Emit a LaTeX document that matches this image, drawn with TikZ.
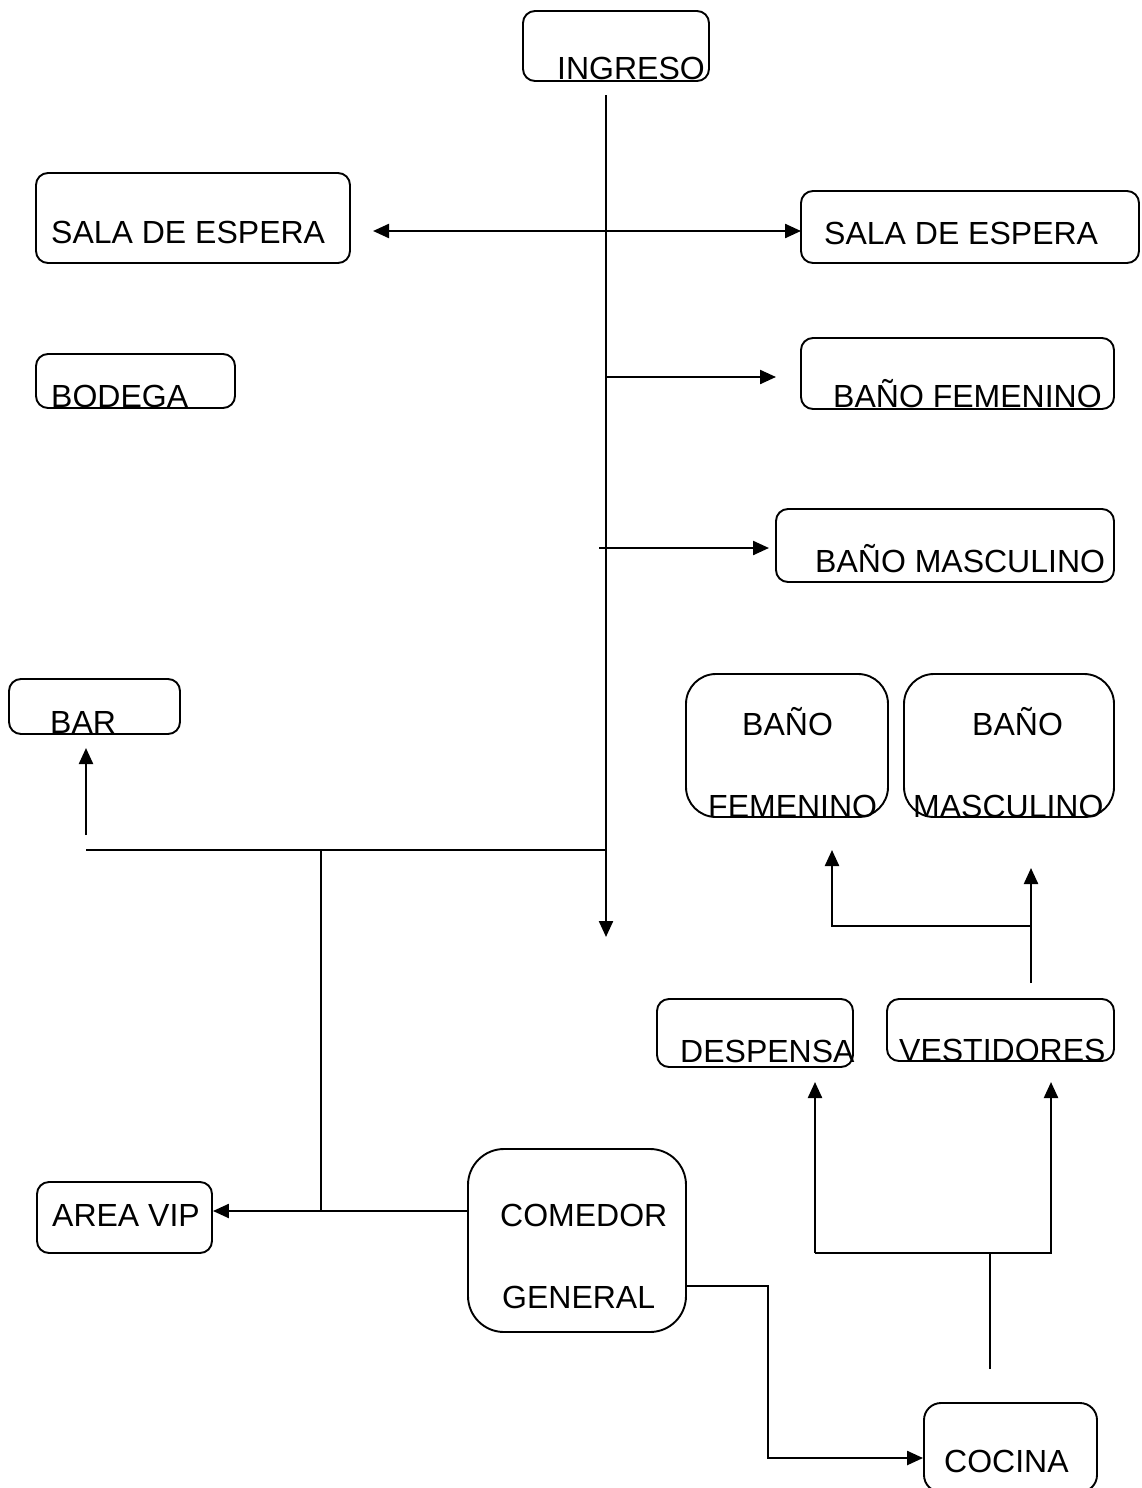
\documentclass[tikz,border=0pt]{standalone}
\usepackage{fontspec}
\setmainfont{Liberation Sans}
\usetikzlibrary{arrows.meta}
\begin{document}
\begin{tikzpicture}[x=1pt,y=-1pt,
  box/.style={draw,line width=1.9pt,rounded corners=#1,inner sep=0pt,shape=rectangle},
  box/.default=12pt,
  txt/.style={inner sep=0pt,anchor=base west,font=\fontsize{32}{36}\selectfont},
  conn/.style={line width=2.3pt},
  thin/.style={line width=1.8pt},
  arr/.style={line width=2.3pt,-{Triangle[length=16pt,width=14pt]}},
  darr/.style={line width=2.3pt,{Triangle[length=16pt,width=14pt]}-{Triangle[length=16pt,width=14pt]}}]
\useasboundingbox (0,0) rectangle (1142,1488);
% boxes
\node[box,minimum width=186pt,minimum height=70pt] (ingreso) at (616,46) {};
\node[box,minimum width=314pt,minimum height=90pt] (salaL) at (193,218) {};
\node[box,minimum width=338pt,minimum height=72pt] (salaR) at (970,227) {};
\node[box,minimum width=199pt,minimum height=54pt] (bodega) at (135.5,381) {};
\node[box,minimum width=313pt,minimum height=71pt] (banoF1) at (957.5,373.5) {};
\node[box,minimum width=338pt,minimum height=73pt] (banoM1) at (945,545.5) {};
\node[box,minimum width=171pt,minimum height=55pt] (bar) at (94.5,706.5) {};
\node[box=30pt,minimum width=202pt,minimum height=143pt] (banoF2) at (787,745.5) {};
\node[box=30pt,minimum width=210pt,minimum height=143pt] (banoM2) at (1009,745.5) {};
\node[box,minimum width=196pt,minimum height=68pt] (despensa) at (755,1033) {};
\node[box,minimum width=227pt,minimum height=62pt] (vestidores) at (1000.5,1030) {};
\node[box,minimum width=175pt,minimum height=71pt] (areavip) at (124.5,1217.5) {};
\node[box=36pt,minimum width=218pt,minimum height=183pt] (comedor) at (577,1240.5) {};
\node[box=17pt,minimum width=173pt,minimum height=89pt] (cocina) at (1010.5,1447.5) {};
% texts
\node[txt] (tingreso) at (557,80) {INGRESO};
\node[txt] (tsalaL) at (51,243) {SALA DE ESPERA};
\node[txt] (tsalaR) at (824,244) {SALA DE ESPERA};
\node[txt] (tbodega) at (51,407) {BODEGA};
\node[txt] (tbanoF1) at (833,407) {BAÑO FEMENINO};
\node[txt] (tbanoM1) at (815,572) {BAÑO MASCULINO};
\node[txt] (tbar) at (50,733) {BAR};
\node[txt] (tbanoF2a) at (742,735) {BAÑO};
\node[txt] (tbanoF2b) at (708,817) {FEMENINO};
\node[txt] (tbanoM2a) at (972,735) {BAÑO};
\node[txt] (tbanoM2b) at (913,817) {MASCULINO};
\node[txt] (tdespensa) at (680,1062) {DESPENSA};
\node[txt] (tvestidores) at (899,1061) {VESTIDORES};
\node[txt] (tareavip) at (52,1226) {AREA VIP};
\node[txt] (tcomedorA) at (500,1226) {COMEDOR};
\node[txt] (tcomedorB) at (502,1308) {GENERAL};
\node[txt] (tcocina) at (944,1472) {COCINA};
% coordinates
\coordinate (m0) at (606,95);
\coordinate (m1) at (606,937);
\coordinate (sl) at (373,231);
\coordinate (sr) at (801,231);
\coordinate (f0) at (607,377);
\coordinate (f1) at (776,377);
\coordinate (g0) at (599,548);
\coordinate (g1) at (769,548);
\coordinate (h0) at (86,850);
\coordinate (h1) at (606,850);
\coordinate (b0) at (86,835);
\coordinate (b1) at (86,748);
\coordinate (v0) at (321,850);
\coordinate (v1) at (321,1211);
\coordinate (c0) at (768,1286);
\coordinate (c1) at (768,1458);
\coordinate (k0) at (990,1369);
\coordinate (k1) at (990,1253);
\coordinate (kl) at (815,1253);
\coordinate (kr) at (1051,1253);
\coordinate (kla) at (815,1082);
\coordinate (kra) at (1051,1082);
\coordinate (w0) at (1031,983);
\coordinate (w1) at (1031,926);
\coordinate (wl) at (832,926);
\coordinate (wr) at (1031,868);
\coordinate (wla) at (832,850);
% connectors
\draw[arr] (m0) -- (m1);
\draw[darr] (sl) -- (sr);
\draw[arr] (f0) -- (f1);
\draw[arr] (g0) -- (g1);
\draw[conn] (h0) -- (h1);
\draw[arr] (b0) -- (b1);
\draw[thin] (v0) -- (v1);
\draw[arr] (comedor.west |- v1) -- (areavip.east |- v1);
\draw[arr] (comedor.east |- c0) -- (c0) -- (c1) -- (cocina.west |- c1);
\draw[thin] (k0) -- (k1);
\draw[arr] (kl) -- (kla);
\draw[arr] (kl) -- (kr) -- (kra);
\draw[arr] (w0) -- (wr);
\draw[arr] (w1) -- (wl) -- (wla);
\end{tikzpicture}
\end{document}
